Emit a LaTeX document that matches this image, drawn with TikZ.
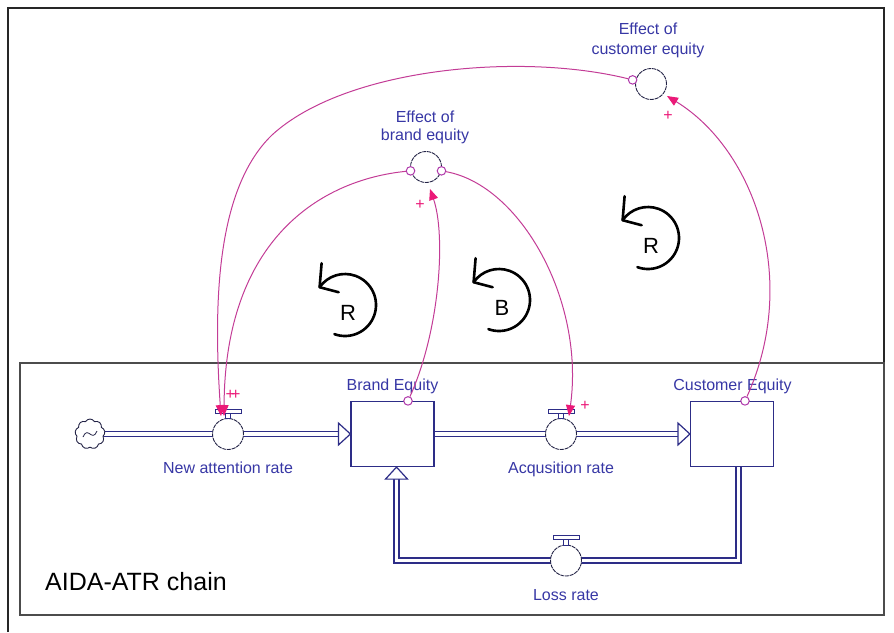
\documentclass[tikz,border=0pt]{standalone}
\usepackage{fontspec}
\setmainfont{Liberation Sans}
\usetikzlibrary{calc,arrows.meta,shapes.symbols}
\pgfdeclarelayer{bg}
\pgfsetlayers{bg,main}
\definecolor{pipec}{RGB}{45,45,135}
\definecolor{lblc}{RGB}{55,55,165}
\definecolor{inflc}{RGB}{195,60,150}
\definecolor{headc}{RGB}{235,25,120}
\definecolor{tailcol}{RGB}{175,55,170}
\definecolor{ringc}{RGB}{35,35,70}
\newcommand\valvecap[1]{%
  \draw[pipec,line width=1pt,fill=white] ($(#1.north)+(-2.5,-5)$) rectangle ($(#1.north)+(2.5,0.5)$);
  \draw[pipec,line width=1pt,fill=white] ($(#1.north)+(-13,-9)$) rectangle ($(#1.north)+(13,-5)$);}
\newcommand\loopmark[4]{%
  \draw[loopl] ($(#1,#2)+(110:31)$) arc[start angle=110,end angle=-145,radius=31] coordinate (#4tip);
  \draw[loopl] ($(#4tip)+(2,-24)$) -- (#4tip) -- ($(#4tip)+(19,5)$);
  \node[looptxt,anchor=base] (#4) at ($(#1,#2)+(3,15)$) {#3};}
\begin{document}
\begin{tikzpicture}[x=1pt,y=-1pt,
  lbl/.style={text=lblc,font=\fontsize{16}{20}\selectfont,inner sep=0pt},
  pipe/.style={draw=pipec,double=white,double distance=3.6pt,line width=1.3pt},
  stock/.style={rectangle,draw=pipec,line width=1.2pt,fill=white,minimum width=83pt,minimum height=65pt,inner sep=0pt},
  valve/.style={circle,draw=ringc,line width=0.9pt,fill=white,minimum size=31pt,inner sep=0pt,dash pattern=on 4pt off 0.8pt},
  cloudn/.style={cloud,cloud puffs=9,cloud puff arc=120,aspect=1,draw=ringc,line width=0.9pt,fill=white,minimum width=30pt,minimum height=30pt,inner sep=0pt},
  infl/.style={draw=inflc,line width=1pt,-{Triangle[length=11pt,width=9pt,color=headc]}},
  tailn/.style={circle,draw=tailcol,line width=1pt,fill=white,minimum size=8.5pt,inner sep=0pt},
  plusn/.style={text=headc,font=\fontsize{16}{16}\selectfont,inner sep=0pt},
  loopl/.style={line width=2.6pt,draw=black,line cap=round,line join=round},
  looptxt/.style={font=\fontsize{22}{22}\selectfont,inner sep=0pt},
  arrowhd/.style={draw=pipec,line width=1.2pt,fill=white,line join=miter}]
\useasboundingbox (0,0) rectangle (894,632);
% frames
\draw[black!85,line width=1.6pt] (8,632) -- (8,8) -- (884,8) -- (884,363);
\draw[black!70,line width=1.6pt] (20,363) rectangle (884,615);
% stock-flow nodes
\node[cloudn] (src) at (90,434) {};
\draw[ringc,line width=0.8pt] ($(src)+(-7,3)$) .. controls ($(src)+(-2,-9)$) and ($(src)+(2,9)$) .. ($(src)+(7,-3)$);
\node[valve] (nar) at (228,434) {};
\node[stock] (be) at (392.5,434) {};
\node[valve] (acq) at (561,434) {};
\node[stock] (ce) at (732,434) {};
\node[valve] (loss) at (566,560.5) {};
\node[valve] (ebe) at (426,167) {};
\node[valve] (ece) at (651,84) {};
% pipes
\begin{pgfonlayer}{bg}
\draw[pipe] (src.center) -- (nar.center);
\draw[pipe] (nar.center) -- ($(be.west)+(-11,0)$);
\draw[pipe] (be.center) -- (acq.center);
\draw[pipe] (acq.center) -- ($(ce.west)+(-11,0)$);
\draw[pipe] ($(ce.center)+(6.5,0)$) |- (loss.center) -| ($(be.south)+(4,11)$);
\end{pgfonlayer}
\draw[arrowhd] (be.west) -- ++(-12,-11) -- ++(0,22) -- cycle;
\draw[arrowhd] (ce.west) -- ++(-12,-11) -- ++(0,22) -- cycle;
\draw[arrowhd] ($(be.south)+(4,0)$) -- ++(-11,12) -- ++(22,0) -- cycle;
\valvecap{nar}
\valvecap{acq}
\valvecap{loss}
% labels
\node[lbl,anchor=base] (narl) at (228,473) {New attention rate};
\node[lbl,anchor=base] (bel) at (392.5,390) {Brand Equity};
\node[lbl,anchor=base] (acql) at (561,473) {Acqusition rate};
\node[lbl,anchor=base] (cel) at (732.5,390) {Customer Equity};
\node[lbl,anchor=base] (lossl) at (566,600) {Loss rate};
\node[lbl,anchor=base] (ebel1) at (425,122) {Effect of};
\node[lbl,anchor=base] (ebel2) at (425,140) {brand equity};
\node[lbl,anchor=base] (ecel1) at (648,34) {Effect of};
\node[lbl,anchor=base] (ecel2) at (648,54) {customer equity};
\node[anchor=base west,inner sep=0pt,font=\fontsize{25}{25}\selectfont] (title) at (45,590) {AIDA-ATR chain};
% influence connectors
\node[tailn] (t1) at ($(be.north)+(15.5,0)$) {};
\node[tailn] (t2) at (ebe.194) {};
\node[tailn] (t3) at (ebe.346) {};
\node[tailn] (t4) at ($(ce.north)+(13,0)$) {};
\node[tailn] (t5) at ($(ece.165)+(-3,0)$) {};
\draw[infl] (t1) .. controls (440,330) and (446,235) .. ($(ebe.south)+(4,6)$);
\draw[infl] (t2) .. controls (320,180) and (225,240) .. ($(nar.north)+(-4,-2)$);
\draw[infl] (t3) .. controls (520,185) and (585,300) .. ($(acq.north)+(8,-2)$);
\draw[infl] (t4) .. controls (800,280) and (755,150) .. ($(ece.center)+(16,12)$);
\draw[infl] (t5) .. controls (520,52) and (345,68) .. (272,135) .. controls (217,188) and (213,300) .. ($(nar.north)+(-7,-2)$);
\node[plusn] (p1) at (420,205) {+};
\node[plusn] (p2) at (585,406) {+};
\node[plusn] (p3) at (668,116) {+};
\node[plusn] (p4) at (233,395) {+\kern-4pt+};
% loop markers
\loopmark{345}{305}{R}{loopA}
\loopmark{499}{300}{B}{loopB}
\loopmark{648}{238}{R}{loopC}
\end{tikzpicture}
\end{document}
